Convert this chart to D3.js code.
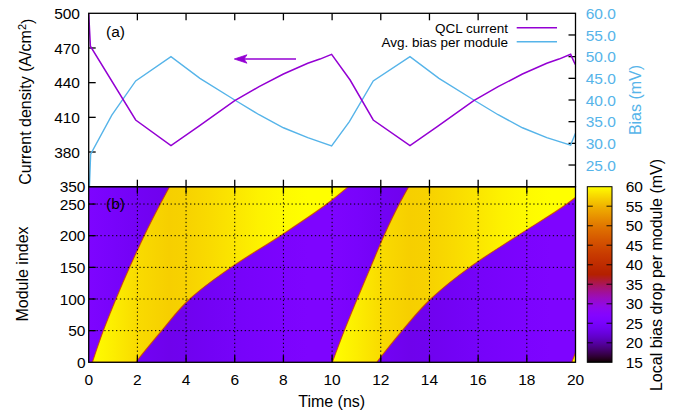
<!DOCTYPE html>
<html><head><meta charset="utf-8">
<script src="https://cdn.jsdelivr.net/npm/d3@7"></script>
<style>
body{margin:0;background:#fff}
svg{display:block}
text{font-family:"Liberation Sans",Arial,sans-serif;fill:#000}
</style>
</head><body>
<svg id="c" width="687" height="417"></svg>
<script>
// ---------------- data ----------------
const timeTicks = [0,2,4,6,8,10,12,14,16,18,20];
const currentTicks = [350,380,410,440,470,500];
const biasTicks = [25,30,35,40,45,50,55,60];
const moduleTicks = [0,50,100,150,200,250];
const colorTicks = [15,20,25,30,35,40,45,50,55,60];

// QCL current density (A/cm^2) vs time (ns)
const currentT = [0,0.07,1.93,3.38,4.5,6.0,7.0,8.0,9.0,9.5,9.98,10.74,11.69,13.2,14.32,15.82,16.82,17.82,18.82,19.32,19.8,19.94,20];
const currentJ = [500,471.5,407.7,385.5,402,424.4,436.5,447.5,456.8,460.4,464.5,442.3,407.7,385.5,402,424.4,436.5,447.5,456.8,460.4,464.5,458,455.5];
// average bias per module (mV) vs time (ns)
const biasT = [0.03,0.08,0.95,1.93,3.38,4.57,6.0,7.0,8.0,9.0,9.98,10.71,11.69,13.2,14.39,15.82,16.82,17.82,18.82,19.8,19.94,20];
const biasV = [20,27.5,36.5,44.4,50.0,45.0,40.0,36.6,33.6,31.3,29.4,35.0,44.4,50.0,45.0,40.0,36.6,33.6,31.3,29.6,31.5,32.3];

// high-field domain boundaries: time (ns) at given module index
const moduleIdx  = [0,50,100,150,200,250,277.4];
const band1Lead  = [0.15,0.60,1.12,1.68,2.28,2.94,3.32];
const band1Trail = [1.93,3.00,4.15,5.85,7.88,9.78,10.67];
const band2Lead  = [10.01,10.50,11.03,11.58,12.13,12.76,13.15];
const band2Trail = [11.83,12.88,14.05,15.65,17.62,19.64,20.55];
const band3Lead  = [19.85,20.35,20.9,21.45,22.05,22.7,23.1];
const band3Trail = [21.7,22.8,24.0,25.7,27.7,29.6,30.5];

// local bias (mV) in low-field and high-field regions vs time
const fieldT    = [0,1,2,3.3,4,5,6,7,8,9,10,11,12,13.2,14,15,16,17,18,19,20];
const lowField  = [26.0,25.0,24.2,23.5,23.7,24.2,24.7,25.2,25.6,25.9,26.0,25.1,24.2,23.5,23.7,24.2,24.7,25.2,25.6,25.9,25.9];
const highField = [60,59,57.8,57.0,57.2,57.8,58.5,59.2,59.7,60,60,59,57.8,57.0,57.2,57.8,58.5,59.2,59.7,60,60];

// ---------------- layout ----------------
const L = 88.7, R = 575.5, T1 = 13.3, M1 = 186.7, B2 = 362.3;
const CBL = 587.3, CBR = 612;
const purple = "#9400d3", blue = "#56b4e9";
const fsTick = 15.5, fsLab = 16;

const svg = d3.select("#c");
const x  = d3.scaleLinear().domain([0,20]).range([L,R]);
const yJ = d3.scaleLinear().domain([350,500]).range([M1,T1]);
const yB = d3.scaleLinear().domain([20,60]).range([M1,T1]);
const yM = d3.scaleLinear().domain([0,277.4]).range([B2,M1]);
const yC = d3.scaleLinear().domain([15,60]).range([B2,M1]);

// gnuplot default pm3d palette (rgbformulae 7,5,15)
const color = d3.scaleSequential().domain([15,60]).clamp(true).interpolator(t => {
  const r = Math.sqrt(t), g = t*t*t, b = Math.max(0, Math.sin(2*Math.PI*t));
  return d3.rgb(255*r, 255*g, 255*b).toString();
});

const defs = svg.append("defs");
defs.append("clipPath").attr("id","clipB").append("rect")
  .attr("x",L).attr("y",M1).attr("width",R-L).attr("height",B2-M1);
defs.append("clipPath").attr("id","clipT").append("rect")
  .attr("x",L).attr("y",T1).attr("width",R-L).attr("height",M1-T1);

function timeGradient(id, vals){
  const g = defs.append("linearGradient").attr("id",id)
    .attr("gradientUnits","userSpaceOnUse")
    .attr("x1",x(0)).attr("x2",x(20)).attr("y1",0).attr("y2",0);
  fieldT.forEach((t,i)=> g.append("stop").attr("offset",t/20).attr("stop-color",color(vals[i])));
}
timeGradient("lowG", lowField);
timeGradient("highG", highField);

const cbG = defs.append("linearGradient").attr("id","cbG")
  .attr("x1",0).attr("x2",0).attr("y1",1).attr("y2",0);
d3.range(15,60.001,0.5).forEach(v => cbG.append("stop").attr("offset",(v-15)/45).attr("stop-color",color(v)));

// ---------------- bottom panel: heat map ----------------
const hm = svg.append("g").attr("clip-path","url(#clipB)");
hm.append("rect").attr("x",L).attr("y",M1).attr("width",R-L).attr("height",B2-M1).attr("fill","url(#lowG)");
const area = d3.area().curve(d3.curveMonotoneY)
  .y(d=>yM(d.m)).x0(d=>x(d.lead)).x1(d=>x(d.trail));
[[band1Lead,band1Trail],[band2Lead,band2Trail],[band3Lead,band3Trail]].forEach(([a,b])=>{
  const d = moduleIdx.map((m,i)=>({m, lead:a[i], trail:b[i]}));
  hm.append("path").attr("d",area(d)).attr("fill","url(#highG)")
    .attr("stroke",color(44)).attr("stroke-width",1.1).attr("stroke-opacity",0.85);
});

// grid
const grid = svg.append("g").attr("stroke","#000").attr("stroke-width",1).attr("stroke-dasharray","1.3,2.6");
timeTicks.slice(1,-1).forEach(t=> grid.append("line").attr("x1",x(t)).attr("x2",x(t)).attr("y1",M1).attr("y2",B2));
moduleTicks.slice(1).forEach(m=> grid.append("line").attr("x1",L).attr("x2",R).attr("y1",yM(m)).attr("y2",yM(m)));

// ticks
const tk = svg.append("g").attr("stroke","#000").attr("stroke-width",1.3);
const TL = 7;
timeTicks.slice(1,-1).forEach(t=>{
  tk.append("line").attr("x1",x(t)).attr("x2",x(t)).attr("y1",B2).attr("y2",B2-TL);
  tk.append("line").attr("x1",x(t)).attr("x2",x(t)).attr("y1",M1).attr("y2",M1+TL);
  tk.append("line").attr("x1",x(t)).attr("x2",x(t)).attr("y1",M1).attr("y2",M1-TL);
  tk.append("line").attr("x1",x(t)).attr("x2",x(t)).attr("y1",T1).attr("y2",T1+TL);
});
moduleTicks.slice(1).forEach(m=> tk.append("line").attr("x1",L).attr("x2",L+TL).attr("y1",yM(m)).attr("y2",yM(m)));
currentTicks.slice(1,-1).forEach(v=> tk.append("line").attr("x1",L).attr("x2",L+TL).attr("y1",yJ(v)).attr("y2",yJ(v)));
biasTicks.slice(0,-1).forEach(v=> tk.append("line").attr("x1",R).attr("x2",R-TL).attr("y1",yB(v)).attr("y2",yB(v)));

// ---------------- top panel: lines ----------------
const topG = svg.append("g").attr("clip-path","url(#clipT)");
const lineJ = d3.line().x((d,i)=>x(currentT[i])).y(d=>yJ(d));
const lineB = d3.line().x((d,i)=>x(biasT[i])).y(d=>yB(d));
topG.append("path").attr("d",lineB(biasV)).attr("fill","none").attr("stroke",blue).attr("stroke-width",1.4);
topG.append("path").attr("d",lineJ(currentJ)).attr("fill","none").attr("stroke",purple).attr("stroke-width",1.5);

// arrow
svg.append("line").attr("x1",296).attr("x2",244).attr("y1",59).attr("y2",59).attr("stroke",purple).attr("stroke-width",1.5);
svg.append("path").attr("d","M234.3,59 L247,54.8 L244,59 L247,63.2 Z").attr("fill",purple).attr("stroke",purple).attr("stroke-width",0.8);

// legend
const leg = svg.append("g");
[["QCL current",purple,27.7],["Avg. bias per module",blue,41.7]].forEach(([t,c,y])=>{
  leg.append("text").attr("x",508).attr("y",y+4.8).attr("text-anchor","end").style("font-size","13.5px").text(t);
  leg.append("line").attr("x1",516.7).attr("x2",557).attr("y1",y).attr("y2",y).attr("stroke",c).attr("stroke-width",1.5);
});

// frames
svg.append("rect").attr("x",L).attr("y",T1).attr("width",R-L).attr("height",M1-T1).attr("fill","none").attr("stroke","#000").attr("stroke-width",1.3);
svg.append("rect").attr("x",L).attr("y",M1).attr("width",R-L).attr("height",B2-M1).attr("fill","none").attr("stroke","#000").attr("stroke-width",1.3);

// colour bar
svg.append("rect").attr("x",CBL).attr("y",yC(60)).attr("width",CBR-CBL).attr("height",yC(15)-yC(60)).attr("fill","url(#cbG)").attr("stroke","#000").attr("stroke-width",1);
colorTicks.slice(1,-1).forEach(v=>{
  svg.append("line").attr("x1",CBL).attr("x2",CBL+5.5).attr("y1",yC(v)).attr("y2",yC(v)).attr("stroke","#000").attr("stroke-opacity",0.75).attr("stroke-width",1.2);
  svg.append("line").attr("x1",CBR).attr("x2",CBR-5.5).attr("y1",yC(v)).attr("y2",yC(v)).attr("stroke","#000").attr("stroke-opacity",0.75).attr("stroke-width",1.2);
});

// ---------------- tick labels ----------------
const lab = svg.append("g").style("font-size",fsTick+"px");
const dyc = fsTick*0.36;
currentTicks.forEach(v=> lab.append("text").attr("x", v===350?85.5:80).attr("y",yJ(v)+dyc).attr("text-anchor","end").text(v));
moduleTicks.forEach(v=> lab.append("text").attr("x",85.5).attr("y",yM(v)+dyc).attr("text-anchor","end").text(v));
timeTicks.forEach(v=> lab.append("text").attr("x",x(v)).attr("y",385).attr("text-anchor","middle").text(v));
biasTicks.forEach(v=> lab.append("text").attr("x",585.7).attr("y",yB(v)+dyc).style("fill",blue).text(v.toFixed(1)));
colorTicks.forEach(v=> lab.append("text").attr("x",625.7).attr("y",yC(v)+dyc).text(v));

// panel tags
svg.append("text").attr("x",106).attr("y",36.5).style("font-size",fsTick+"px").text("(a)");
svg.append("text").attr("x",106).attr("y",208.5).style("font-size",fsTick+"px").text("(b)");

// axis titles
function vText(cx, cy){
  return svg.append("text").attr("transform",`translate(${cx},${cy}) rotate(-90)`)
    .attr("text-anchor","middle").attr("dy","0.36em").style("font-size",fsLab+"px");
}
const cd = vText(25,101.7);
cd.append("tspan").text("Current density (A/cm");
cd.append("tspan").attr("dy","-0.45em").style("font-size","11px").text("2");
cd.append("tspan").attr("dy","0.45em").text(")");
vText(22.5,274).text("Module index");
vText(635.5,100).text("Bias (mV)").style("fill",blue);
vText(656,275).text("Local bias drop per module (mV)");
svg.append("text").attr("x",331.7).attr("y",407).attr("text-anchor","middle").style("font-size",fsLab+"px").text("Time (ns)");
</script>
</body></html>
